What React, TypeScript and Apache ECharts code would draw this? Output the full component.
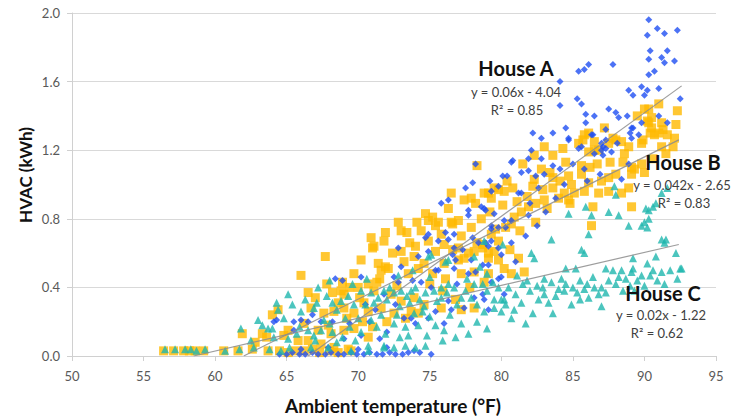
import React, { useEffect, useRef } from "react";
import * as echarts from "echarts";

// ---------- data ----------
const xTicks = [50, 55, 60, 65, 70, 75, 80, 85, 90, 95];
const yTicks = [0, 0.4, 0.8, 1.2, 1.6, 2.0];

const houseA: number[][] = [
  [64.5,0.01],[65.0,0.01],[65.4,0.02],[65.9,0.01],[66.3,0.01],[66.8,0.02],[67.2,0.01],[67.7,0.01],[68.1,0.02],[68.6,0.01],
  [69.0,0.01],[69.5,0.02],[69.9,0.01],[70.4,0.01],[70.8,0.02],[71.3,0.01],[71.7,0.01],[72.2,0.02],[72.6,0.01],[73.1,0.01],
  [73.5,0.02],[73.9,0.03],[74.3,0.02],[75.1,0.01],[66.0,0.04],[67.9,0.05],[70.0,0.04],[72.0,0.05],
  [64.1,0.20],[64.3,0.21],[65.5,0.20],[65.5,0.15],[66.0,0.21],[66.5,0.20],[67.4,0.20],[68.2,0.20],[69.4,0.19],[70.8,0.20],
  [66.8,0.24],[69.0,0.10],[70.2,0.12],[71.5,0.10],[72.0,0.14],[71.2,0.27],[72.6,0.30],[73.2,0.22],[73.7,0.22],[74.0,0.19],
  [74.9,0.22],[75.4,0.26],[76.0,0.19],[76.3,0.32],[76.5,0.27],[77.4,0.28],[78.1,0.34],[78.7,0.36],[78.8,0.33],[80.2,0.36],
  [79.1,0.27],[70.5,0.30],[71.8,0.36],[75.1,0.40],[76.9,0.42],
  [68.4,0.45],[68.9,0.44],[70.2,0.46],[72.5,0.46],[72.8,0.43],[73.8,0.44],[74.4,0.43],[75.6,0.50],[77.7,0.48],[75.4,0.50],
  [76.7,0.51],[77.9,0.56],[78.2,0.49],[78.7,0.53],[79.8,0.45],[76.6,0.59],[76.8,0.56],[72.8,0.63],[74.7,0.69],[74.9,0.71],
  [75.6,0.67],[76.3,0.68],[74.9,0.61],[76.7,0.63],[78.0,0.69],[79.3,0.67],[78.4,0.66],[79.1,0.64],[80.0,0.59],[76.1,0.72],
  [76.7,0.71],[79.3,0.76],[79.8,0.75],[80.2,0.79],[75.8,0.89],[76.3,0.91],[77.7,0.85],[78.6,0.87],[78.9,0.85],[77.7,0.82],
  [78.0,1.01],[77.5,0.98],[79.2,1.02],[78.2,1.12],[79.3,0.96],[79.8,0.99],[81.2,0.95],[82.0,0.89],[82.6,0.98],[78.8,0.86],
  [79.5,0.83],[80.7,0.79],[81.9,0.82],[83.1,0.84],[79.3,0.74],[80.3,0.75],[78.9,0.66],[79.8,0.63],[80.7,0.66],[79.1,0.53],
  [80.0,0.46],[79.3,0.43],[73.0,0.52],[74.2,0.58],[77.3,0.62],[81.0,0.55],[81.7,0.70],[82.5,0.76],[83.8,0.92],[84.4,1.00],
  [86.0,1.02],[86.9,1.06],[88.4,1.03],
  [80.8,1.14],[80.1,1.05],[81.4,1.07],[82.1,1.20],[81.9,1.15],[82.8,1.15],[82.2,1.30],[82.8,1.27],[83.6,1.30],[84.7,1.26],
  [85.4,1.21],[86.4,1.29],[87.0,1.24],[87.3,1.21],[80.7,1.13],[81.9,1.08],[82.4,1.05],[83.6,1.11],[85.0,1.12],[85.8,1.09],
  [87.1,1.17],[87.7,1.19],[88.9,1.12],[80.4,1.05],[81.4,0.95],[83.0,1.06],[84.1,1.09],[84.7,1.27],[85.6,1.22],[86.5,1.18],
  [87.0,1.20],[87.3,1.26],[88.1,1.24],[89.1,1.27],[89.2,1.33],[89.8,1.36],
  [85.4,1.66],[86.1,1.70],[87.8,1.70],[84.1,1.60],[84.1,1.46],[85.3,1.50],[85.6,1.47],[85.9,1.41],[86.5,1.40],[87.5,1.44],
  [88.0,1.42],[88.2,1.39],[88.8,1.40],[84.5,1.33],[85.9,1.36],[87.3,1.32],[89.1,1.33],[89.0,1.30],[89.6,1.29],[91.0,1.40],
  [91.6,1.36],[86.3,1.29],[87.1,1.22],[89.8,1.57],[90.2,1.55],[88.9,1.55],[89.2,1.52],[91.0,1.56],[90.0,1.52],[92.5,1.50],
  [90.3,1.96],[90.9,1.91],[91.4,1.88],[92.3,1.90],[90.2,1.87],[90.4,1.78],[91.6,1.78],[90.3,1.73],[91.2,1.74],[91.4,1.71],
  [92.1,1.72],[90.7,1.66],[90.3,1.64],[85.8,1.67]
];

const houseB: number[][] = [
  [56.4,0.03],[57.1,0.03],[57.8,0.03],[58.2,0.03],[58.6,0.03],[59.2,0.03],[60.6,0.03],[61.6,0.03],[62.6,0.04],[63.7,0.03],
  [64.5,0.03],[65.1,0.02],[65.6,0.03],[66.2,0.03],[66.8,0.04],[67.3,0.02],[68.0,0.03],[68.6,0.02],[69.3,0.04],[69.5,0.03],
  [61.9,0.13],[63.3,0.13],[63.6,0.11],[65.1,0.15],[65.8,0.09],[66.0,0.47],[66.5,0.37],[66.7,0.28],[64.4,0.27],[64.0,0.24],
  [66.5,0.09],[67.4,0.07],[68.3,0.05],[67.2,0.15],[68.1,0.13],[69.0,0.15],[69.7,0.16],[70.7,0.11],[67.6,0.25],[68.3,0.26],
  [69.0,0.28],[69.7,0.25],[70.7,0.26],[71.6,0.28],[72.5,0.25],[73.7,0.26],[69.0,0.36],[70.1,0.34],[71.1,0.38],[72.3,0.36],
  [73.0,0.32],[73.9,0.34],[74.6,0.30],[75.8,0.28],[77.2,0.27],[78.1,0.28],[68.9,0.43],[70.0,0.40],[70.7,0.42],[71.3,0.43],
  [68.2,0.37],[68.8,0.38],[73.5,0.48],[74.2,0.51],[74.6,0.54],[75.2,0.48],[76.0,0.54],[77.0,0.56],[77.4,0.57],[78.1,0.61],
  [78.7,0.63],[79.5,0.61],[79.1,0.57],[79.8,0.56],[77.2,0.48],[78.1,0.49],[79.1,0.48],[75.4,0.61],[73.0,0.61],[71.4,0.54],
  [72.1,0.51],[71.6,0.50],[71.9,0.52],[69.7,0.48],[67.7,0.58],[70.9,0.69],[71.0,0.63],[71.1,0.64],[71.9,0.72],[71.8,0.67],
  [72.8,0.78],[73.0,0.73],[73.6,0.66],[74.4,0.73],[74.7,0.83],[75.2,0.81],[75.4,0.76],[76.5,0.95],[76.5,0.78],[77.0,0.79],
  [77.4,0.91],[77.9,0.92],[78.2,0.89],[78.8,0.95],[79.3,0.92],[79.8,0.97],[78.3,1.11],[73.4,0.72],[74.1,0.78],[74.9,0.79],
  [75.6,0.78],[76.6,0.77],[77.0,0.63],[78.3,0.66],[76.0,0.65],[76.6,0.62],[77.7,0.60],[78.7,0.65],[79.6,0.74],
  [67.0,0.34],[67.8,0.42],[68.6,0.31],[69.4,0.40],[70.4,0.31],[71.5,0.45],[72.7,0.41],[73.2,0.55],[73.9,0.58],[74.9,0.67],
  [75.8,0.71],[76.3,0.86],[77.2,0.70],[77.9,0.75],[78.6,0.80],[79.2,0.84],[75.0,0.42],[76.1,0.45],[77.8,0.40],[78.8,0.43],
  [70.2,0.56],[72.4,0.60],[74.0,0.64],[75.9,0.38],[76.8,0.33],[66.2,0.19],[67.9,0.18],[69.2,0.22],[70.3,0.20],[71.0,0.17],
  [72.0,0.20],[73.3,0.22],[74.2,0.25],[64.8,0.12],[62.8,0.08],
  [80.7,0.77],[80.3,0.75],[79.3,0.71],[79.8,0.67],[79.1,0.60],[80.2,0.51],[80.7,0.48],[81.6,0.49],[79.5,0.98],[80.2,0.96],
  [80.8,0.98],[79.1,0.95],[82.3,1.03],[82.2,0.99],[80.9,0.81],[81.4,0.84],[81.9,0.87],[82.4,0.89],[83.0,0.91],[84.0,0.92],
  [84.4,0.95],[85.1,0.95],[85.8,0.96],[86.8,0.95],[87.5,0.96],[88.4,0.95],[88.9,0.98],[87.5,1.04],[88.0,1.06],[89.1,1.06],
  [89.3,1.09],[86.3,0.76],[89.1,0.87],[86.4,0.87],[84.7,0.91],[85.8,1.29],[86.5,1.25],[86.8,1.20],[85.4,1.24],[84.3,1.21],
  [83.6,1.17],[82.3,1.17],[84.5,1.13],[85.6,1.11],[82.8,1.09],[83.6,1.04],[84.7,1.05],[85.6,1.06],[86.1,1.01],[87.8,1.27],
  [88.0,1.26],[90.0,1.44],[91.0,1.47],[92.3,1.43],[90.3,1.36],[90.5,1.33],[91.2,1.36],[91.3,1.32],[89.9,1.26],[90.7,1.29],
  [91.6,1.29],[92.1,1.27],[88.4,1.25],[88.9,1.22],[90.3,1.44],[90.5,1.39],[90.2,1.37],[90.4,1.30],[91.0,1.30],[89.8,1.24],
  [85.7,1.26],[87.5,1.24],[86.5,1.20],[86.1,1.19],[86.1,1.30],[81.1,0.90],[82.9,0.97],[83.6,0.98],[84.9,1.00],[87.0,1.02],
  [89.8,1.12],[90.6,1.15],[91.5,1.18],[92.0,1.22],[88.5,1.13],[86.2,1.10],[84.8,0.89],[83.2,0.86],[82.4,0.78],[81.3,0.73],
  [80.6,0.62],[81.2,0.57],[89.1,1.10],[90.0,1.07],[80.1,0.88],[81.8,0.93],[83.4,1.07],[84.1,1.02],[86.7,1.12],[87.6,1.13],
  [88.6,1.18],[91.2,1.22],[92.2,1.35],[89.5,1.40],[87.2,1.33],[83.0,1.22],[81.5,1.12],[80.4,1.02]
];

const houseC: number[][] = [
  [56.5,0.04],[57.2,0.04],[57.9,0.04],[58.3,0.04],[58.7,0.03],[59.3,0.04],[60.7,0.03],[61.7,0.04],[62.7,0.05],[63.8,0.04],
  [64.6,0.03],[65.2,0.05],[66.7,0.05],[67.9,0.05],[69.5,0.03],[70.7,0.03],[71.8,0.05],[72.5,0.05],[73.3,0.06],[74.0,0.05],
  [74.7,0.06],[69.8,0.09],[70.7,0.06],[71.8,0.06],
  [61.8,0.16],[63.3,0.18],[63.7,0.16],[64.0,0.16],[64.1,0.11],[65.1,0.10],[65.1,0.36],[65.4,0.30],[66.0,0.26],[64.3,0.31],
  [64.4,0.27],[66.9,0.28],[67.1,0.31],[68.2,0.31],[68.8,0.32],[70.2,0.38],[70.9,0.37],[71.8,0.38],[72.5,0.37],[73.0,0.38],
  [73.7,0.38],[74.7,0.37],[75.3,0.38],[75.8,0.40],[76.3,0.42],[76.7,0.40],[78.1,0.42],[78.7,0.42],[79.4,0.43],[78.8,0.67],
  [76.3,0.56],[74.9,0.58],[75.1,0.59],[76.1,0.55],[78.1,0.58],[80.1,0.65],[78.5,0.52],[75.8,0.34],[77.2,0.34],[77.9,0.34],
  [71.1,0.31],[72.0,0.33],[73.6,0.31],[74.3,0.33],[66.5,0.15],[67.4,0.15],[68.2,0.14],[68.9,0.11],[70.2,0.14],[71.3,0.17],
  [72.5,0.19],[73.3,0.17],[74.2,0.18],[77.2,0.19],[77.7,0.13],[70.0,0.22],[71.6,0.24],[73.9,0.25],[75.0,0.23],[69.1,0.22],
  [76.0,0.15],[67.0,0.09],[68.5,0.08],[72.9,0.11],[74.8,0.12],[75.9,0.09],[69.7,0.30],[67.6,0.21],[65.9,0.17],
  [66.3,0.33],[67.8,0.35],[68.5,0.27],[69.3,0.35],[70.5,0.30],[71.4,0.34],[72.2,0.40],[72.9,0.29],[73.4,0.35],[74.0,0.40],
  [74.6,0.29],[75.5,0.32],[76.2,0.37],[76.9,0.30],[77.5,0.38],[78.3,0.30],[79.0,0.38],[79.8,0.40],[67.2,0.40],[68.0,0.44],
  [69.6,0.42],[70.6,0.45],[72.8,0.47],[73.8,0.50],[75.0,0.46],[77.6,0.45],[79.0,0.48],[66.9,0.12],[68.0,0.19],[69.4,0.17],
  [70.9,0.21],[71.9,0.13],[72.7,0.24],[73.5,0.12],[74.5,0.26],[75.4,0.18],[76.4,0.24],[76.8,0.11],[78.3,0.20],[79.0,0.16],
  [80.0,0.26],[62.5,0.09],[63.0,0.21],[64.8,0.22],[65.7,0.13],
  [79.5,0.28],[78.8,0.26],[80.7,0.22],[81.7,0.19],[80.0,0.33],[81.0,0.36],[82.0,0.38],[83.0,0.36],[84.0,0.39],[85.0,0.40],
  [86.0,0.42],[87.0,0.40],[88.0,0.42],[89.0,0.41],[80.5,0.40],[81.5,0.42],[82.5,0.41],[83.5,0.43],[84.5,0.42],[85.5,0.44],
  [86.5,0.40],[87.5,0.44],[88.5,0.38],[89.5,0.44],[84.5,0.51],[85.2,0.51],[87.3,0.51],[87.8,0.50],[88.4,0.50],[89.1,0.49],
  [89.8,0.47],[90.4,0.47],[91.2,0.49],[91.8,0.50],[92.6,0.51],[89.2,0.57],[90.8,0.58],[92.2,0.60],[85.6,0.62],[85.8,0.60],
  [82.1,0.60],[82.3,0.57],[83.5,0.68],[86.1,0.71],[91.2,0.68],[91.4,0.66],[91.5,0.68],[87.9,0.99],[88.0,0.94],[84.7,0.83],
  [86.3,0.82],[87.5,0.84],[88.2,0.82],[88.9,0.76],[90.0,0.78],[89.8,0.76],[90.2,0.75],[90.3,0.80],[90.1,0.86],[90.3,0.85],
  [90.6,0.87],[90.8,0.89],[91.6,0.98],[91.2,0.95],[85.9,0.87],[86.1,0.34],[92.5,0.51],[89.2,0.51],[90.2,0.54],[84.4,0.38],
  [83.0,0.45],[81.1,0.47],[80.3,0.30],[82.6,0.33],[79.5,0.33],[80.2,0.33],[83.8,0.35],[85.3,0.37],[86.8,0.36],[88.7,0.45],
  [90.9,0.44],[82.2,0.25],[84.9,0.30],[81.4,0.31],[82.9,0.40],[83.3,0.31],[84.2,0.45],[85.8,0.39],[86.4,0.46],[87.3,0.37],
  [88.2,0.46],[89.3,0.38],[90.0,0.41],[90.6,0.50],[91.4,0.42],[92.3,0.45],[81.8,0.44],[80.9,0.27],[83.6,0.25],[85.5,0.33],
  [87.0,0.29]
];

const trendA: number[][] = [[66.5, 0.0], [92.6, 1.575]];
const trendB: number[][] = [[62.0, 0.0], [92.4, 1.26]];
const trendC: number[][] = [[58.5, 0.0], [92.4, 0.65]];

const labelA = ["House A", "y = 0.06x - 4.04", "R² = 0.85"];
const labelB = ["House B", "y = 0.042x - 2.65", "R² = 0.83"];
const labelC = ["House C", "y = 0.02x - 1.22", "R² = 0.62"];

const FONT = "Lato, 'Open Sans', sans-serif";

export default function App() {
  const ref = useRef<HTMLDivElement>(null);
  useEffect(() => {
    if (!ref.current) return;
    const chart = echarts.init(ref.current, undefined, { renderer: "svg" });
    const trendStyle = { color: "#8c8c8c", width: 1.2, opacity: 0.85 };
    const eqText = (x: number, y: number, t: string, bold = false) => ({
      type: "text",
      x,
      y,
      style: {
        text: t,
        fill: bold ? "#111" : "#404040",
        font: bold ? `bold 20px ${FONT}` : `13px ${FONT}`,
        textAlign: "center",
        textVerticalAlign: "middle",
      },
      z: 100,
    });
    chart.setOption({
      animation: false,
      backgroundColor: "#ffffff",
      grid: { left: 72, top: 13, right: 16, bottom: 63 },
      xAxis: {
        type: "value",
        min: xTicks[0],
        max: xTicks[xTicks.length - 1],
        interval: 5,
        splitLine: { show: false },
        axisLine: { show: true, lineStyle: { color: "#d0d0d0" } },
        axisTick: { show: true, length: 5, lineStyle: { color: "#d0d0d0" } },
        axisLabel: { color: "#595959", fontSize: 13, margin: 13, fontFamily: FONT },
      },
      yAxis: {
        type: "value",
        min: yTicks[0],
        max: yTicks[yTicks.length - 1],
        interval: 0.4,
        splitLine: { show: true, lineStyle: { color: "#d9d9d9" } },
        axisLine: { show: true, lineStyle: { color: "#d0d0d0" } },
        axisTick: { show: true, length: 5, lineStyle: { color: "#d0d0d0" } },
        axisLabel: {
          color: "#595959",
          fontSize: 13,
          margin: 12,
          fontFamily: FONT,
          formatter: (v: number) => v.toFixed(1),
        },
      },
      series: [
        {
          name: "House B",
          type: "scatter",
          data: houseB,
          symbol: "rect",
          symbolSize: 9,
          itemStyle: { color: "#ffb900" },
          z: 2,
        },
        {
          name: "House A",
          type: "scatter",
          data: houseA,
          symbol: "diamond",
          symbolSize: 7,
          itemStyle: { color: "#1f4ff2" },
          z: 3,
        },
        {
          name: "House C",
          type: "scatter",
          data: houseC,
          symbol: "triangle",
          symbolSize: 8,
          itemStyle: { color: "#1fb7ae" },
          z: 4,
        },
        { type: "line", data: trendA, symbol: "none", lineStyle: trendStyle, z: 5, silent: true },
        { type: "line", data: trendB, symbol: "none", lineStyle: trendStyle, z: 5, silent: true },
        { type: "line", data: trendC, symbol: "none", lineStyle: trendStyle, z: 5, silent: true },
      ],
      graphic: [
        eqText(516, 68, labelA[0], true),
        eqText(516, 92, labelA[1]),
        eqText(517, 110, labelA[2]),
        eqText(683, 162, labelB[0], true),
        eqText(682, 185, labelB[1]),
        eqText(684, 203, labelB[2]),
        eqText(663, 293, labelC[0], true),
        eqText(661, 315, labelC[1]),
        eqText(657, 333, labelC[2]),
        {
          type: "text",
          x: 393,
          y: 405,
          style: {
            text: "Ambient temperature (°F)",
            fill: "#111",
            font: `bold 19px ${FONT}`,
            textAlign: "center",
            textVerticalAlign: "middle",
          },
        },
        {
          type: "text",
          x: 25,
          y: 175,
          rotation: Math.PI / 2,
          style: {
            text: "HVAC (kWh)",
            fill: "#111",
            font: `bold 17px ${FONT}`,
            textAlign: "center",
            textVerticalAlign: "middle",
          },
        },
      ],
    });
    return () => chart.dispose();
  }, []);
  return (
    <div
      ref={ref}
      style={{ position: "fixed", left: 0, top: 0, width: 732, height: 419 }}
    />
  );
}
